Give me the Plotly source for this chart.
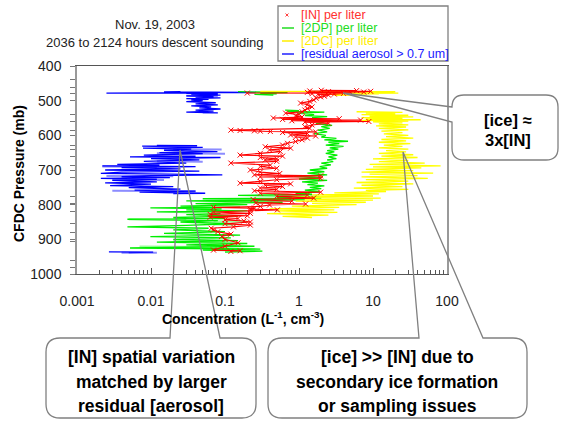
import plotly.graph_objects as go

# ---------------- data (pressure in mb, concentration in L^-1 / cm^-3) ----------------
blue_p = [474, 474.5, 475, 475.5, 476, 476.5, 477, 478, 478.5, 479, 480, 482, 484, 486, 488, 490, 492, 494,
          496, 498, 500, 503, 506, 509, 512, 515, 518, 521, 524, 527, 530, 533, 535, 536, None,
          629, 630, 631, 633, 635, 637, 640, 643, 647, 650, 653, 657, 660, 662, 664, 667, 671, 675, 680,
          684, 686, 688, 690, 693, 697, 700, 703, 706, 710, 712, 714, 716, 719, 722, 724, 727, 730, 734,
          737, 741, 745, 748, 751, 755, 758, 761, 764, 767, 768, None,
          936, 937, 938]
blue_c = [0.025, 0.09, 0.015, 0.05, 0.118, 0.26, 0.03, 0.0025, 0.07, 0.03, 0.08, 0.035, 0.087, 0.03, 0.07,
          0.04, 0.087, 0.03, 0.06, 0.035, 0.05, 0.03, 0.075, 0.04, 0.08, 0.035, 0.065, 0.045, 0.087, 0.04,
          0.07, 0.03, 0.08, 0.05, None,
          0.012, 0.042, 0.0076, 0.03, 0.05, 0.0078, 0.035, 0.015, 0.079, 0.013, 0.05, 0.008, 0.04, 0.0052,
          0.087, 0.01, 0.045, 0.008, 0.03, 0.0035, 0.013, 0.0022, 0.04, 0.004, 0.025, 0.0024, 0.045, 0.004,
          0.0021, 0.018, 0.092, 0.01, 0.004, 0.018, 0.0021, 0.012, 0.003, 0.012, 0.0024, 0.01, 0.0028, 0.02,
          0.005, 0.025, 0.006, 0.04, 0.007, 0.054, 0.02, None,
          0.0027, 0.0107, 0.005]

blue_light_p = [486, 487, None, 640, 641, None, 652, 653, None, 675, 676, None, 690, 691, None,
                717, 718, None, 728, 729, None, 760, 761, None, 938.5, 939]
blue_light_c = [0.03, 0.08, None, 0.02, 0.09, None, 0.012, 0.1, None, 0.012, 0.05, None, 0.0022, 0.012, None,
                0.0025, 0.02, None, 0.003, 0.015, None, 0.003, 0.04, None, 0.004, 0.012]

green_p = [474, 475, 476, 477, 478, 480, 482, 484, None,
           527, 529, 531, 533, 536, 540, 543, 546, 549, 552, 556, 561, 566, 571, 575, 580, 585, 590, 595,
           600, 605, 609, 613, 617, 620, 624, 628, 632, 636, 640, 644, 648, 652, 657, 662, 667, 671, 676,
           680, 685, 690, 695, 700, 705, 709, 714, 718, 722, 726, 730, 734, 738, 742, 746, 750, 754, 758,
           762, 767, 770, 773, 776, 778, 781, 783, 786, 789, 793, 797, 800, 804, 807, 809, 812, 815, 818,
           821, 825, 829, 833, 837, 840, 842, 846, 850, 855, 860, 864, 868, 873, 878, 883, 888, 892, 896,
           900, 904, 908, 912, 916, 920, 923, 925, 928, 931, 934, 937]
green_c = [0.15, 0.6, 0.2, 0.7, 0.3, 0.5, 0.25, 0.45, None,
           0.65, 1.0, 0.7, 2.2, 0.95, 1.6, 1.2, 2.4, 1.5, 2.0, 1.6, 2.2, 1.7, 2.8, 2.0, 2.6, 1.8, 2.4, 1.6,
           2.3, 2.0, 3.2, 2.2, 4.6, 2.5, 3.5, 2.3, 4.0, 2.6, 3.4, 2.4, 3.0, 2.3, 3.3, 2.5, 3.2, 2.4, 2.9,
           2.0, 2.7, 1.9, 2.4, 1.4, 2.2, 1.3, 2.4, 0.85, 2.0, 1.0, 2.4, 1.1, 1.8, 1.3, 2.2, 1.4, 2.0, 1.2,
           1.9, 0.9, 1.5, 0.15, 1.9, 0.5, 2.0, 0.05, 1.2, 0.03, 0.6, 0.04, 0.2, 0.025, 0.16, 0.0098, 0.09,
           0.03, 0.2, 0.012, 0.087, 0.03, 0.15, 0.02, 0.1, 0.0048, 0.08, 0.025, 0.12, 0.03, 0.0048, 0.06,
           0.02, 0.1, 0.015, 0.16, 0.0098, 0.12, 0.02, 0.15, 0.012, 0.2, 0.03, 0.25, 0.04, 0.0052, 0.3,
           0.05, 0.32, 0.1]

green_light_p = [842, 843, None, 848, 849, None, 857, 858, None, 905, 906, None, 921, 922]
green_light_c = [0.005, 0.03, None, 0.07, 0.2, None, 0.07, 0.14, None, 0.02, 0.1, None, 0.007, 0.09]

yellow_p = [473, 474, 475, 476, 477, 478, 479, 480, 481, 483, 485, None,
            532, 534, 536, 538, 540, 542, 545, 547, 549, 551, 553, 555, 557, 559, 561, 564, 567, 570, 573,
            576, 580, 584, 588, 592, 596, 600, 604, 608, 612, 616, 620, 624, 628, 632, 636, 640, 644, 648,
            652, 656, 660, 664, 668, 672, 676, 680, 684, 688, 691, 694, 698, 702, 706, 709, 712, 716, 720,
            724, 728, 732, 736, 740, 744, 748, 752, 756, 759, 762, 766, 769, 772, 775, 778, 781, 784, 787,
            790, 793, 796, 800, 804, 808, 812, 815, 818, 822, 826, 830, 834, 837]
yellow_c = [0.3, 20, 1.0, 15, 3, 22, 5, 12, 2, 8, 3, None,
            6, 25, 8, 20, 7, 30, 9, 35, 7, 25, 8, 44, 7, 30, 10, 25, 12, 30, 11,
            28, 12, 30, 13, 25, 14, 30, 15, 35, 13, 28, 12, 32, 14, 25, 12, 30, 15, 28,
            12, 35, 13, 40, 10, 30, 12, 50, 9, 82, 10, 45, 8, 35, 7, 65, 9, 40, 7,
            55, 8, 30, 6, 35, 7, 25, 5.5, 30, 8, 15, 3, 12, 1.5, 10, 0.8, 12.7, 1.2, 10,
            0.9, 8, 1.5, 6, 0.8, 3.5, 0.4, 3.0, 0.5, 3.3, 0.37, 2.5, 0.6, 1.5]

red_p = [470, 471, 472, 473, 474, 475, 476, 477, 478, 479, 480, 481, 482, 484, 487, 489, 493, 498, 502, 507,
         512, 518, 523, 527, 532, 536, 540, 544, 547, 550, 552, 554, 556, 558, 560, 562, 565, 570, 575, 580,
         585, 586, 587, 588, 589, 590, 592, 595, 599, 602, 605, 608, 613, 618, 623, 628, 633, 637, 642, 647,
         652, 657, 660, 664, 668, 671, 675, 680, 686, 690, 695, 700, 706, 710, 714, 717, 720, 724, 728, 733,
         738, 740, 744, 748, 752, 756, 760, 764, 767, 772, 776, 781, 785, 790, 795, 798, 801, 805, 808, 810,
         813, 815, 818, 821, 825, 828, 832, 836, 840, 844, 847, 850, 855, 859, 864, 868, 873, 878, 885, 892,
         900, 910, 920, 931, 933, 935]
red_c = [2.0, 6.0, 1.4, 9.3, 2.5, 7.5, 1.3, 5.0, 0.2, 4.0, 1.5, 3.0, 1.8, 2.5, 2.2, 1.96, 1.7, 1.58, 1.4, 1.05,
         1.3, 1.5, 1.3, 1.2, 1.1, 0.66, 1.0, 0.9, 1.1, 0.45, 3.5, 0.6, 6.8, 0.8, 8.8, 1.2, 2.5, 1.5, 1.2, 1.4,
         0.12, 0.16, 0.25, 0.3, 0.41, 1.68, 0.6, 1.3, 0.77, 1.68, 0.9, 1.3, 1.1, 0.9, 0.7, 0.6, 0.35, 0.77, 0.4, 0.56,
         0.3, 0.16, 0.6, 0.3, 0.5, 0.35, 0.5, 0.12, 0.41, 0.3, 0.5, 0.22, 0.3, 0.55, 0.25, 1.96, 0.3, 1.96, 0.5, 0.3,
         0.16, 0.77, 0.35, 0.6, 0.3, 0.5, 0.25, 1.96, 0.3, 1.3, 0.5, 1.58, 0.24, 0.8, 0.26, 1.23, 0.4, 0.3, 0.07, 0.25,
         0.22, 0.51, 0.22, 0.07, 0.22, 0.063, 0.2, 0.063, 0.15, 0.1, 0.18, 0.22, 0.1, 0.22, 0.13, 0.065, 0.07, 0.08, 0.12, 0.09,
         0.1, 0.15, 0.1, 0.07, 0.16, 0.12]

x_tickvals = [0.001, 0.01, 0.1, 1, 10, 100]
x_ticktext = ["0.001", "0.01", "0.1", "1", "10", "100"]
y_tickvals = [400, 500, 600, 700, 800, 900, 1000]
y_minor_ticks = [440, 461, 479, 541, 561, 585, 628, 642, 662, 686, 723, 777, 798, 820, 853, 881, 907, 960, 980]
x_minor_ticks = [m * 10.0 ** e for e in range(-3, 2) for m in range(2, 10)]

legend_names = ["[IN] per liter", "[2DP] per liter", "[2DC] per liter", "[residual aerosol > 0.7 um]"]
legend_colors = ["#ff3030", "#22dd22", "#ffee00", "#2020ff"]

FONT = "Liberation Sans, Arial, sans-serif"
W, H = 561, 421
L, R, T, B = 77, 447, 66, 274


def fx(x):
    return (x - L) / (R - L)


def fy(y):
    return (B - y) / (B - T)


fig = go.Figure()
fig.add_trace(go.Scatter(x=blue_light_c, y=blue_light_p, mode="lines", line=dict(color="#8c8cff", width=2),
                         connectgaps=False, showlegend=False))
fig.add_trace(go.Scatter(x=blue_c, y=blue_p, mode="lines", line=dict(color="#0000ff", width=1.3),
                         connectgaps=False, showlegend=False))
fig.add_trace(go.Scatter(x=green_light_c, y=green_light_p, mode="lines", line=dict(color="#99ff99", width=2),
                         connectgaps=False, showlegend=False))
fig.add_trace(go.Scatter(x=green_c, y=green_p, mode="lines", line=dict(color="#00ee00", width=1.3),
                         connectgaps=False, showlegend=False))
fig.add_trace(go.Scatter(x=yellow_c, y=yellow_p, mode="lines", line=dict(color="#ffff00", width=1.3),
                         connectgaps=False, showlegend=False))
fig.add_trace(go.Scatter(x=red_c, y=red_p, mode="lines+markers", line=dict(color="#ff0000", width=1.1),
                         marker=dict(symbol="x-thin", size=5, line=dict(color="#ff0000", width=1)),
                         showlegend=False))

shapes = []
annotations = []


def P(x, y):
    return f"{fx(x):.5f},{fy(y):.5f}"


def bubble_top(x0, y0, x1, y1, r, b1, b2, tip):
    return (f"M{P(b1, y0)} L{P(*tip)} L{P(b2, y0)} L{P(x1 - r, y0)} Q{P(x1, y0)} {P(x1, y0 + r)} "
            f"L{P(x1, y1 - r)} Q{P(x1, y1)} {P(x1 - r, y1)} L{P(x0 + r, y1)} Q{P(x0, y1)} {P(x0, y1 - r)} "
            f"L{P(x0, y0 + r)} Q{P(x0, y0)} {P(x0 + r, y0)} Z")


def bubble_left(x0, y0, x1, y1, r, b1, b2, tip):
    return (f"M{P(x0, b1)} L{P(*tip)} L{P(x0, b2)} L{P(x0, y1 - r)} Q{P(x0, y1)} {P(x0 + r, y1)} "
            f"L{P(x1 - r, y1)} Q{P(x1, y1)} {P(x1, y1 - r)} L{P(x1, y0 + r)} Q{P(x1, y0)} {P(x1 - r, y0)} "
            f"L{P(x0 + r, y0)} Q{P(x0, y0)} {P(x0, y0 + r)} Z")


bub_style = dict(type="path", xref="paper", yref="paper", line=dict(color="#808080", width=1.3),
                 fillcolor="rgba(0,0,0,0)", layer="above")
shapes.append(dict(path=bubble_left(452, 95, 558, 160, 12, 107, 122, (343, 93)), **bub_style))
shapes.append(dict(path=bubble_top(46, 338, 256, 418, 14, 170, 220, (180, 150)), **bub_style))
shapes.append(dict(path=bubble_top(268, 338, 527, 418, 14, 419, 483, (403, 152)), **bub_style))

bold = dict(family=FONT, size=16.5, color="#000000")
for txt, cx, cy in [("<b>[ice] ≈</b>", 508, 120), ("<b>3x[IN]</b>", 508, 140)]:
    annotations.append(dict(text=txt, x=fx(cx), y=fy(cy), xref="paper", yref="paper", showarrow=False,
                            xanchor="center", yanchor="middle", font=bold))
bold2 = dict(family=FONT, size=17.5, color="#000000")
for txt, cx, cy in [("<b>[IN] spatial variation</b>", 151, 357), ("<b>matched by larger</b>", 151, 382),
                    ("<b>residual [aerosol]</b>", 151, 406),
                    ("<b>[ice] >> [IN] due to</b>", 397, 357), ("<b>secondary ice formation</b>", 397, 382),
                    ("<b>or sampling issues</b>", 397, 406)]:
    annotations.append(dict(text=txt, x=fx(cx), y=fy(cy), xref="paper", yref="paper", showarrow=False,
                            xanchor="center", yanchor="middle", font=bold2))

for txt, cy in [("Nov. 19, 2003", 24), ("2036 to 2124 hours descent sounding", 43)]:
    annotations.append(dict(text=txt, x=fx(155), y=fy(cy), xref="paper", yref="paper", showarrow=False,
                            xanchor="center", yanchor="middle", font=dict(family=FONT, size=13, color="#222")))
annotations.append(dict(text="<b>Concentration (L<sup>-1</sup>, cm<sup>-3</sup>)</b>", x=fx(243), y=fy(318),
                        xref="paper", yref="paper", showarrow=False, xanchor="center", yanchor="middle",
                        font=dict(family=FONT, size=14, color="#000")))
annotations.append(dict(text="<b>CFDC Pressure (mb)</b>", x=fx(19), y=fy(174), xref="paper", yref="paper",
                        showarrow=False, xanchor="center", yanchor="middle", textangle=-90,
                        font=dict(family=FONT, size=14, color="#000")))

# manual legend
shapes.append(dict(type="rect", xref="paper", yref="paper", x0=fx(278), x1=fx(448), y0=fy(6), y1=fy(61),
                   line=dict(color="#808080", width=1.3), fillcolor="white", layer="above"))
rows = [15, 28, 41, 54]
for i, (name, col) in enumerate(zip(legend_names, legend_colors)):
    yy = rows[i]
    if i == 0:
        shapes.append(dict(type="line", xref="paper", yref="paper", x0=fx(285.5), x1=fx(288.5), y0=fy(yy - 1.5),
                           y1=fy(yy + 1.5), line=dict(color="#ff4040", width=1), layer="above"))
        shapes.append(dict(type="line", xref="paper", yref="paper", x0=fx(285.5), x1=fx(288.5), y0=fy(yy + 1.5),
                           y1=fy(yy - 1.5), line=dict(color="#ff4040", width=1), layer="above"))
    else:
        shapes.append(dict(type="line", xref="paper", yref="paper", x0=fx(282), x1=fx(294), y0=fy(yy), y1=fy(yy),
                           line=dict(color=col, width=1.5), layer="above"))
    annotations.append(dict(text=name, x=fx(299), y=fy(yy), xref="paper", yref="paper", showarrow=False,
                            xanchor="left", yanchor="middle", font=dict(family=FONT, size=12.5, color=col)))

fig.update_layout(
    width=W, height=H,
    margin=dict(l=L, r=W - R, t=T, b=H - B, pad=0),
    paper_bgcolor="white", plot_bgcolor="white",
    showlegend=False,
    shapes=shapes, annotations=annotations,
    font=dict(family=FONT, size=14, color="#222"),
)
fig.update_xaxes(type="log", range=[-3, 2], tickmode="array", tickvals=x_tickvals, ticktext=x_ticktext,
                 ticks="inside", ticklen=6, tickcolor="#555", showgrid=False, zeroline=False,
                 showline=True, linecolor="#555", linewidth=1.2, mirror=True, ticklabelstandoff=14,
                 tickfont=dict(family=FONT, size=14, color="#222"),
                 minor=dict(tickmode="array", tickvals=x_minor_ticks, ticks="inside", ticklen=4,
                            tickcolor="#555", showgrid=False))
fig.update_yaxes(range=[1000, 400], tickmode="array", tickvals=y_tickvals, ticks="outside", ticklen=5,
                 tickcolor="#777", showgrid=False, zeroline=False, showline=True, linecolor="#999",
                 linewidth=1.5, mirror=True, ticklabelstandoff=6,
                 tickfont=dict(family=FONT, size=14, color="#222"),
                 minor=dict(tickmode="array", tickvals=y_minor_ticks, ticks="outside", ticklen=5,
                            tickcolor="#777", showgrid=False))

fig.write_html("out.html")
